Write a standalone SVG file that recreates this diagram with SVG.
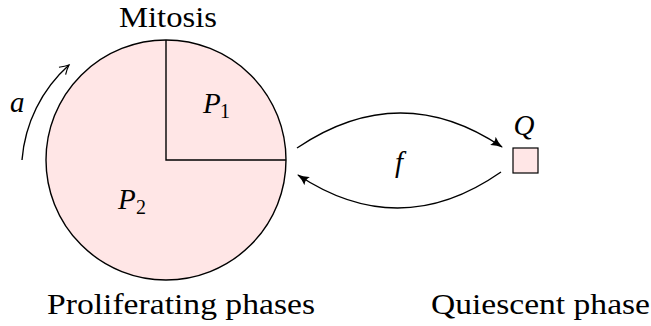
<svg xmlns="http://www.w3.org/2000/svg" width="651" height="326" viewBox="0 0 651 326">
<style>
text{font-family:"Liberation Serif","DejaVu Serif",serif;fill:#000}
.lbl{font-size:29px}
.m{font-style:italic}
.sub{font-size:20px}
.ln{fill:none;stroke:#000;stroke-width:1.4}
.box{fill:#ffe6e6;stroke:#000}
</style>
<defs>
<marker id="stealth" viewBox="0 0 12 10" refX="11" refY="5" markerWidth="12" markerHeight="10" markerUnits="userSpaceOnUse" orient="auto">
<path d="M0,0 Q5,3.5 12,5 Q5,6.5 0,10 Q3,5 0,0 Z" fill="#000"/>
</marker>
<marker id="open" viewBox="0 0 12 12" refX="10" refY="6" markerWidth="12" markerHeight="12" markerUnits="userSpaceOnUse" orient="auto">
<path d="M1,1 Q6,4.5 10,6 Q6,7.5 1,11" fill="none" stroke="#000" stroke-width="1.2"/>
</marker>
</defs>
<rect width="651" height="326" fill="#fff"/>
<g id="proliferating">
<circle class="box" cx="166" cy="160" r="120" stroke-width="1.4"/>
<path class="ln" d="M166,40 V160 H286"/>
<text class="lbl m" x="203" y="113">P</text><text class="sub" x="220" y="118">1</text>
<text class="lbl m" x="118" y="209">P</text><text class="sub" x="136" y="214">2</text>
<text class="lbl" x="119" y="27" textLength="98" lengthAdjust="spacingAndGlyphs">Mitosis</text>
<text class="lbl" x="47" y="314" textLength="268" lengthAdjust="spacingAndGlyphs">Proliferating phases</text>
</g>
<g id="quiescent">
<rect class="box" x="513" y="148" width="25" height="25" stroke-width="1.2"/>
<text class="lbl m" x="524" y="135" text-anchor="middle">Q</text>
<text class="lbl" x="431" y="314" textLength="219" lengthAdjust="spacingAndGlyphs">Quiescent phase</text>
</g>
<g id="connectors">
<path class="ln" d="M22,160 A142,142 0 0 1 69,65" marker-end="url(#open)"/>
<text class="lbl m" x="10" y="112">a</text>
<path class="ln" d="M297,148 Q400,78.5 502,147" marker-end="url(#stealth)"/>
<path class="ln" d="M501,172 Q400,242.5 298,175" marker-end="url(#stealth)"/>
<text class="lbl m" x="395" y="172">f</text>
</g>
</svg>
